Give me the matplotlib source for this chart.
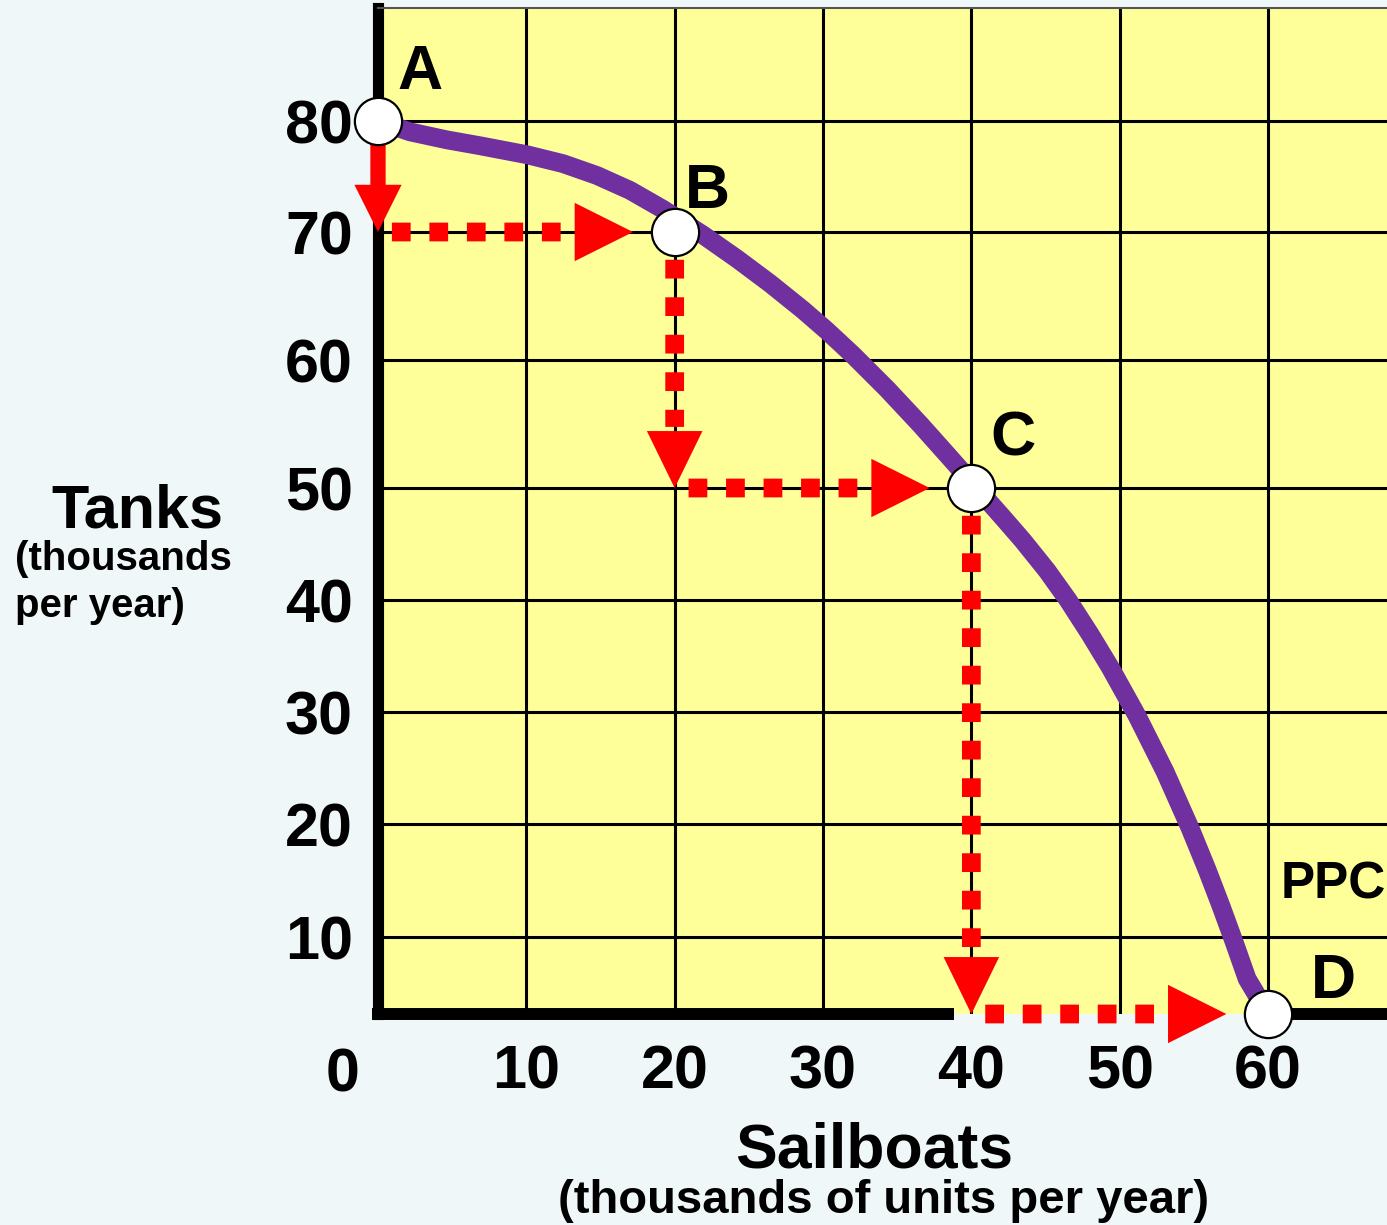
import matplotlib.pyplot as plt
import numpy as np
from matplotlib.patches import FancyArrowPatch

# points on the production possibilities curve
sailboats = [0, 20, 40, 60]
tanks = [80, 70, 50, 0]
point_names = ["A", "B", "C", "D"]

# the purple curve
ppc_sailboats = [0, 2.16, 4.65, 6.88, 10.05, 12.47, 14.76, 16.99, 19.21, 21.91, 24.2, 26.43,
                 28.65, 30.27, 32.02, 34.32, 36.54, 38.36, 42.27, 43.48, 45.1, 46.52, 48.0,
                 49.35, 51.17, 53.06, 54.74, 55.89, 56.83, 57.71, 58.59, 60]
ppc_tanks = [80, 79.02, 78.3, 77.77, 76.96, 76.16, 75.09, 73.75, 72.05, 69.77, 67.91, 65.98,
             63.91, 62.28, 60.39, 57.73, 54.98, 52.62, 47.14, 45.29, 42.62, 39.99, 36.95,
             34.0, 29.66, 24.66, 19.65, 15.96, 12.74, 9.38, 4.57, 0]

x_ticks = [10, 20, 30, 40, 50, 60]
y_ticks = [10, 20, 30, 40, 50, 60, 70, 80]

BG = "#EFF7F9"
YELLOW = "#FFFF99"
PURPLE = "#7030A0"
RED = "#FF0000"
FONT = "Liberation Sans"

# the hand drawn grid is uneven, so the tanks axis uses a piecewise scale
tank_grid = [0, 10, 20, 30, 40, 50, 60, 70, 80, 90]
grid_rise = [0, 77, 190, 302, 414, 526, 654, 782, 893, 1006]


def tank_fwd(v):
    return np.interp(v, tank_grid, grid_rise)


def tank_inv(v):
    return np.interp(v, grid_rise, tank_grid)


W, H = 1387, 1225
fig = plt.figure(figsize=(W / 100, H / 100), dpi=100, facecolor=BG)
ax = fig.add_axes([378 / W, 1 - 1014 / H, 1 - 378 / W, (1014 - 8) / H])
ax.set_facecolor(YELLOW)
ax.set_yscale("function", functions=(tank_fwd, tank_inv))
ax.set_xlim(0, 68.02)
ax.set_ylim(0, 90)

ax.set_xticks(x_ticks)
ax.set_yticks(y_ticks)
ax.minorticks_off()
ax.tick_params(length=0)
ax.tick_params(axis="x", pad=22)
ax.tick_params(axis="y", pad=18)
for lab in ax.get_xticklabels() + ax.get_yticklabels():
    lab.set_fontfamily(FONT)
    lab.set_fontweight("bold")
    lab.set_fontsize(44)
ax.grid(True, color="black", lw=2.2)
ax.set_axisbelow(True)

ax.spines["right"].set_visible(False)
ax.spines["bottom"].set_visible(False)
ax.spines["left"].set_linewidth(8)
ax.spines["top"].set_linewidth(1.5)
ax.spines["top"].set_color("#555555")

# bottom axis line is broken where the last red arrow runs
ax.plot([-0.4, 38.8], [0, 0], color="black", lw=8.6, solid_capstyle="butt", clip_on=False, zorder=3)
ax.plot([61.5, 68.02], [0, 0], color="black", lw=8.6, solid_capstyle="butt", clip_on=False, zorder=3)

ax.annotate("0", xy=(0, 0), xytext=(-35, -77), textcoords="offset pixels",
            ha="center", va="baseline", fontsize=44, fontweight="bold", family=FONT)

# PPC
ax.plot(ppc_sailboats, ppc_tanks, color=PURPLE, lw=13.5, solid_capstyle="round",
        solid_joinstyle="round", zorder=5, clip_on=False)


def head(p, q, hl, hw, sb):
    ax.add_patch(FancyArrowPatch(p, q, arrowstyle=f"-|>,head_length={hl},head_width={hw}",
                                 mutation_scale=1, color=RED, lw=0, shrinkA=0, shrinkB=sb,
                                 zorder=7, clip_on=False))


def dots(p, q, sa, sb):
    ax.add_patch(FancyArrowPatch(p, q, arrowstyle="-", color=RED, lw=13.5,
                                 linestyle=(0, (1, 1)), capstyle="butt",
                                 shrinkA=sa, shrinkB=sb, zorder=7, clip_on=False))


for i in range(3):
    p = (sailboats[i], tanks[i])
    corner = (sailboats[i], tanks[i + 1])
    q = (sailboats[i + 1], tanks[i + 1])
    # down step
    if i == 0:
        ax.add_patch(FancyArrowPatch(p, corner, arrowstyle="-", color=RED, lw=11,
                                     shrinkA=0, shrinkB=30, zorder=7, clip_on=False))
        head(p, corner, 34, 17, 0)
    else:
        dots(p, corner, 20, 44)
        head(p, corner, 41, 20, 0)
    # across step
    dots(corner, q, 10, 30 + 44)
    head(corner, q, 42, 21, 30)

ax.plot(sailboats, tanks, "o", ms=34, mfc="white", mec="black", mew=1.6,
        zorder=10, clip_on=False)

label_offsets = [(42, 32), (33, 24), (42, 33), (65, 16)]
for x, y, name, off in zip(sailboats, tanks, point_names, label_offsets):
    ax.annotate(name, xy=(x, y), xytext=off, textcoords="offset pixels",
                ha="center", va="baseline", fontsize=45, fontweight="bold",
                family=FONT, zorder=11, annotation_clip=False)

ax.text(64.4, 13.45, "PPC", ha="center", va="baseline", fontsize=37,
        fontweight="bold", family=FONT, zorder=11)

# axis titles
fig.text(137 / W, 1 - 527 / H, "Tanks", ha="center", va="baseline",
         fontsize=44, fontweight="bold", family=FONT)
fig.text(15 / W, 1 - 570 / H, "(thousands", ha="left", va="baseline",
         fontsize=29, fontweight="bold", family=FONT)
fig.text(15 / W, 1 - 617 / H, "per year)", ha="left", va="baseline",
         fontsize=29, fontweight="bold", family=FONT)
fig.text(874 / W, 1 - 1167 / H, "Sailboats", ha="center", va="baseline",
         fontsize=45, fontweight="bold", family=FONT)
fig.text(884 / W, 1 - 1213 / H, "(thousands of units per year)", ha="center",
         va="baseline", fontsize=34, fontweight="bold", family=FONT)

fig.savefig("out.png", dpi=100, facecolor=BG)
